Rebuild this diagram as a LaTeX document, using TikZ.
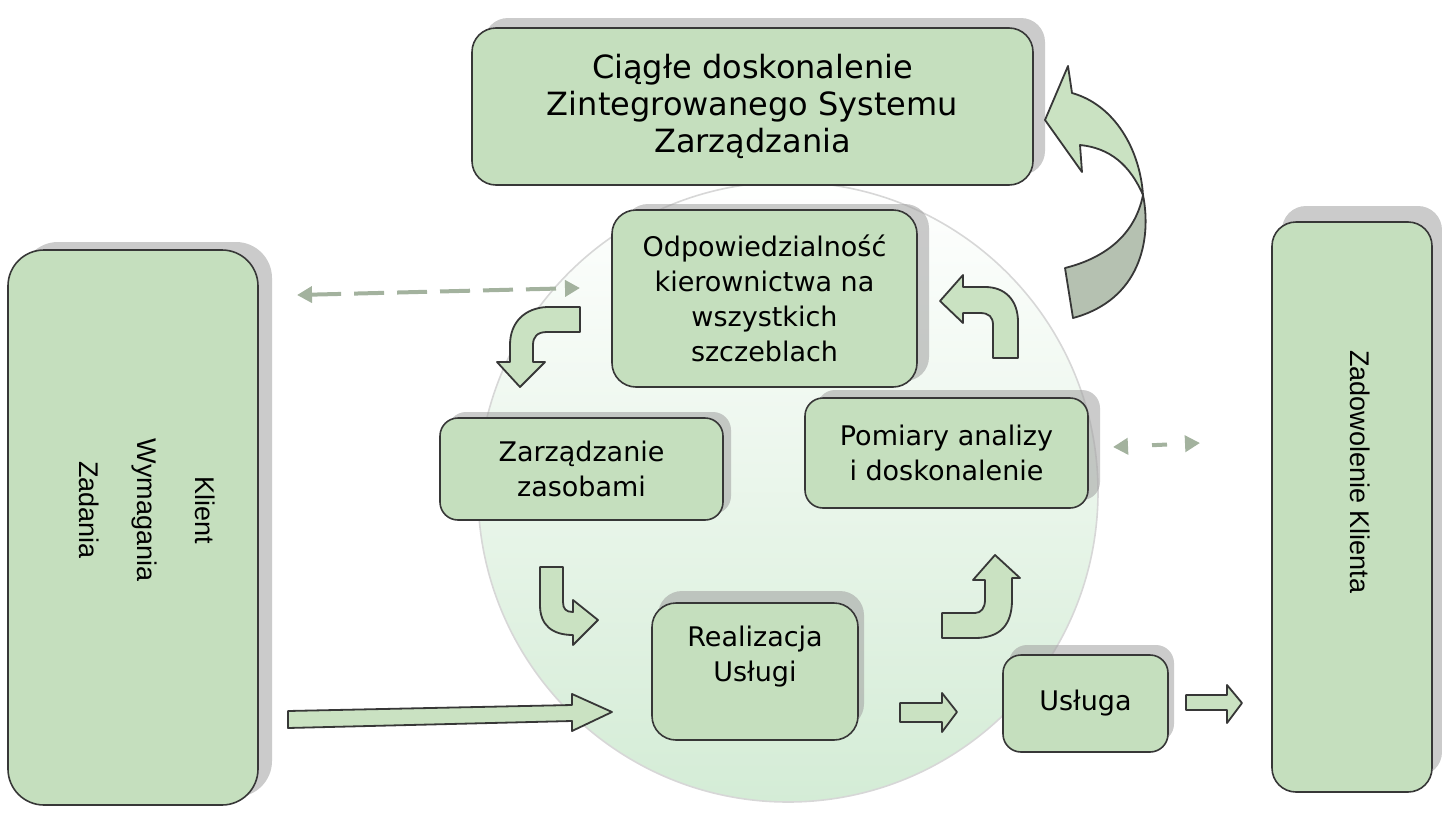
\documentclass[tikz,border=0pt]{standalone}
\usepackage{fontspec}
\setmainfont{DejaVu Sans}
\newfontfamily\arialfont{Liberation Sans}
\usetikzlibrary{arrows.meta,shadows,positioning}
\definecolor{boxgreen}{RGB}{197,223,190}
\definecolor{arrowgreen}{RGB}{202,226,194}
\definecolor{twistgray}{RGB}{181,193,177}
\definecolor{boxborder}{RGB}{55,55,55}
\definecolor{shadowgray}{RGB}{160,160,160}
\definecolor{dashgray}{RGB}{163,178,158}
\definecolor{circlegreen}{RGB}{212,236,214}
\definecolor{circleline}{RGB}{215,215,215}

\tikzset{
    box/.style={draw=boxborder, line width=0.8pt, fill=boxgreen, rounded corners=#1,
        inner sep=0pt, align=center, font=\fontsize{13.5}{17.5}\selectfont},
    box/.default=10pt,
    boxshadow/.style 2 args={drop shadow={shadow xshift=#1, shadow yshift=#2,
        fill=shadowgray, opacity=0.55}},
    blockarrow/.style={draw=boxborder, line width=0.9pt, fill=arrowgreen, line join=round},
    dasharrow/.style={draw=dashgray, line width=2pt,
        {Triangle[length=7.5pt,width=8pt]}-{Triangle[length=7.5pt,width=8pt]}}
}

\begin{document}
\begin{tikzpicture}[x=0.5pt,y=-0.5pt]
    \useasboundingbox (0,0) rectangle (1442,814);

    % background circle
    \shade[top color=white, middle color=circlegreen!45, bottom color=circlegreen]
        (788,492) circle[radius=155pt];
    \draw[circleline, line width=0.8pt] (788,492) circle[radius=155pt];

    % boxes
    \node[box=12pt, boxshadow={6pt}{5pt}, minimum width=280.5pt, minimum height=78.5pt,
          font=\fontsize{16}{18.5}\selectfont]
        (ciagle) at (752.5,106.5) {Ciągłe doskonalenie\\Zintegrowanego Systemu\\Zarządzania};
    \node[box=18pt, boxshadow={7pt}{4pt}, minimum width=125pt, minimum height=277.5pt]
        (klient) at (133,527.5) {};
    \node[box=12pt, boxshadow={5pt}{8pt}, minimum width=80pt, minimum height=285pt]
        (zadow) at (1352,507) {};
    \node[box=12pt, boxshadow={6pt}{3pt}, minimum width=152.5pt, minimum height=88.5pt]
        (odpow) at (764.5,298.5) {Odpowiedzialność\\kierownictwa na\\wszystkich\\szczeblach};
    \node[box=9pt, boxshadow={4pt}{3pt}, minimum width=141.5pt, minimum height=51pt]
        (zasoby) at (581.5,469) {Zarządzanie\\zasobami};
    \node[box=9pt, boxshadow={6pt}{4pt}, minimum width=141.5pt, minimum height=55pt]
        (pomiary) at (946.5,453) {Pomiary analizy\\i doskonalenie};
    \node[box=12pt, boxshadow={3pt}{6pt}, minimum width=103pt, minimum height=68.5pt]
        (realiz) at (755,671.5) {};
    \node[box=9pt, boxshadow={3pt}{5pt}, minimum width=82.5pt, minimum height=48.5pt]
        (usluga) at (1085.5,703.5) {Usługa};

    % texts placed off the box centre
    \node[font=\fontsize{13.5}{17.5}\selectfont, align=center] (realiztxt) at (755,657) {Realizacja\\Usługi};
    \node[rotate=-90, font=\arialfont\fontsize{13.5}{29}\selectfont, align=center]
        (klienttxt) at (147,510) {Klient\\Wymagania\\Zadania};
    \node[rotate=-90, font=\arialfont\fontsize{13.5}{16}\selectfont]
        (zadowtxt) at (1360,472) {Zadowolenie Klienta};

    % dashed double arrows
    \coordinate (dashL1) at (297,295);
    \coordinate (dashL2) at (580,288);
    \draw[dasharrow, dash pattern=on 15pt off 6.5pt] (dashL1) -- (dashL2);
    \coordinate (dashR1) at (1113,447);
    \coordinate (dashR2) at (1200,443);
    \draw[dasharrow, dash pattern=on 7.5pt off 12.5pt, dash phase=7.5pt] (dashR1) -- (dashR2);

    % straight block arrows
    \draw[blockarrow] (288,711) -- (572,705) -- (572,694) -- (612,712) -- (572,731)
        -- (572,721) -- (288,728) -- cycle;
    \draw[blockarrow] (900,703) -- (942,703) -- (942,693) -- (957,712) -- (942,732)
        -- (942,722) -- (900,722) -- cycle;
    \draw[blockarrow] (1186,695) -- (1227,695) -- (1227,685) -- (1242,703) -- (1227,723)
        -- (1227,710) -- (1186,710) -- cycle;

    % bent block arrows round the circle
    \draw[blockarrow] (580,307) -- (547,307) .. controls (525,308) and (510,322) .. (510,345)
        -- (510,362) -- (497,362) -- (520,387) -- (545,362) -- (533,362) -- (533,345)
        .. controls (533,337) and (537,332) .. (547,332) -- (580,332) -- cycle;
    \draw[blockarrow] (540,567) -- (563,567) -- (563,602) .. controls (563,609) and (566,612) .. (573,612)
        -- (573,600) -- (598,620) -- (573,645) -- (573,635)
        .. controls (552,635) and (540,625) .. (540,605) -- cycle;
    \draw[blockarrow] (942,613) -- (975,613) .. controls (981,613) and (985,608) .. (985,600)
        -- (985,580) -- (973,580) -- (995,555) -- (1020,578) -- (1012,578) -- (1012,600)
        .. controls (1012,625) and (1000,638) .. (975,638) -- (942,638) -- cycle;
    \draw[blockarrow] (993,358) -- (993,325) .. controls (993,317) and (989,313) .. (980,313)
        -- (963,313) -- (963,323) -- (940,301) -- (963,275) -- (963,287) -- (985,287)
        .. controls (1005,287) and (1018,300) .. (1018,322) -- (1018,358) -- cycle;

    % twisted arrow up to the top box
    \draw[blockarrow, fill=twistgray] (1143,195) .. controls (1152,240) and (1140,300) .. (1073,318)
        -- (1065,268) .. controls (1105,258) and (1135,235) .. (1143,195) -- cycle;
    \draw[blockarrow] (1045,120) -- (1068,66) -- (1072,93) .. controls (1115,105) and (1140,150) .. (1143,195)
        .. controls (1130,165) and (1110,148) .. (1080,145) -- (1082,172) -- cycle;

\end{tikzpicture}
\end{document}
